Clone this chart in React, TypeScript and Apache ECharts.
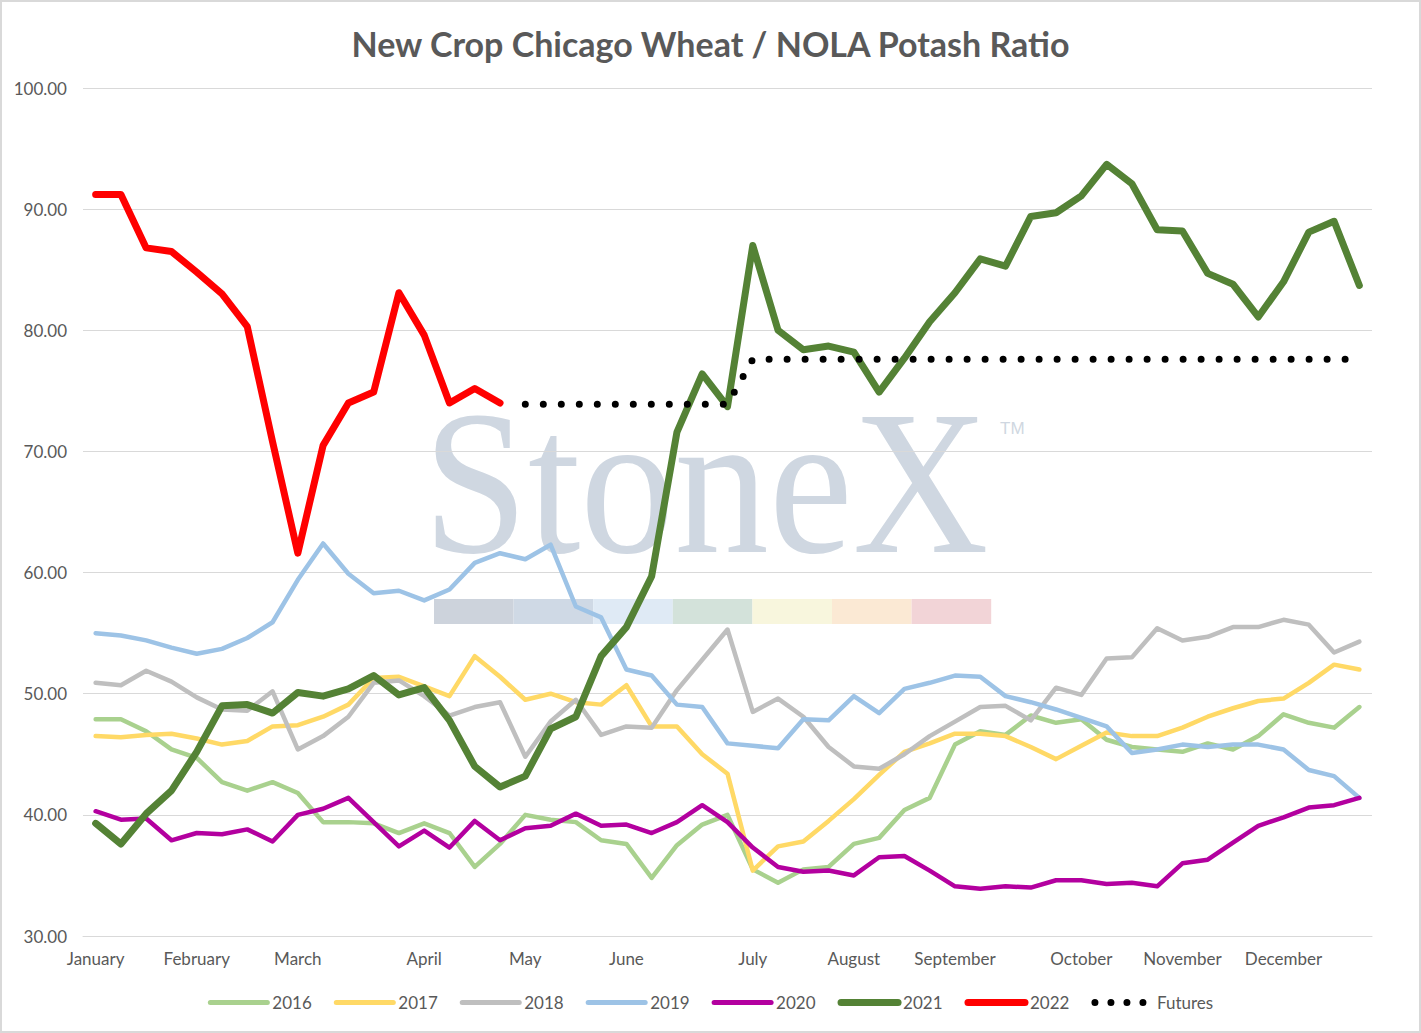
import { useEffect, useRef } from "react";
import * as echarts from "echarts";

// x axis: weekly points, month name shown on the first week of each month
const monthNames = ["January", "February", "March", "April", "May", "June", "July", "August", "September", "October", "November", "December"];
const monthWeek = [0, 4, 8, 13, 17, 21, 26, 30, 34, 39, 43, 47];
const weeks = Array.from({ length: 51 }, (_, i) => `W${i + 1}`);

const y2016 = [47.9, 47.9, 46.9, 45.4, 44.7, 42.7, 42.0, 42.7, 41.8, 39.4, 39.4, 39.3, 38.5, 39.3, 38.5, 35.7, 37.6, 40.0, 39.6, 39.4, 37.9, 37.6, 34.8, 37.5, 39.2, 40.0, 35.5, 34.4, 35.5, 35.7, 37.6, 38.1, 40.4, 41.4, 45.8, 46.9, 46.6, 48.2, 47.6, 47.9, 46.2, 45.6, 45.4, 45.2, 45.9, 45.4, 46.5, 48.3, 47.6, 47.2, 48.9];
const y2017 = [46.5, 46.4, 46.6, 46.7, 46.3, 45.8, 46.1, 47.3, 47.4, 48.1, 49.1, 51.3, 51.4, 50.6, 49.8, 53.1, 51.4, 49.5, 50.0, 49.3, 49.1, 50.7, 47.3, 47.3, 45.0, 43.4, 35.4, 37.4, 37.8, 39.5, 41.3, 43.3, 45.2, 45.9, 46.7, 46.7, 46.5, 45.6, 44.6, 45.7, 46.8, 46.5, 46.5, 47.2, 48.1, 48.8, 49.4, 49.6, 50.9, 52.4, 52.0];
const y2018 = [50.9, 50.7, 51.9, 51.0, 49.7, 48.7, 48.6, 50.2, 45.4, 46.5, 48.1, 50.9, 51.1, 49.8, 48.2, 48.9, 49.3, 44.8, 47.7, 49.5, 46.6, 47.3, 47.2, 50.3, 52.8, 55.3, 48.5, 49.6, 48.1, 45.6, 44.0, 43.8, 45.0, 46.5, 47.7, 48.9, 49.0, 47.8, 50.5, 49.9, 52.9, 53.0, 55.4, 54.4, 54.7, 55.5, 55.5, 56.1, 55.7, 53.4, 54.3];
const y2019 = [55.0, 54.8, 54.4, 53.8, 53.3, 53.7, 54.6, 55.9, 59.4, 62.4, 59.9, 58.3, 58.5, 57.7, 58.6, 60.8, 61.6, 61.1, 62.3, 57.2, 56.3, 52.0, 51.5, 49.1, 48.9, 45.9, 45.7, 45.5, 47.9, 47.8, 49.8, 48.4, 50.4, 50.9, 51.5, 51.4, 49.8, 49.3, 48.7, 48.0, 47.3, 45.1, 45.4, 45.8, 45.6, 45.8, 45.8, 45.4, 43.7, 43.2, 41.4];
const y2020 = [40.3, 39.6, 39.7, 37.9, 38.5, 38.4, 38.8, 37.8, 40.0, 40.5, 41.4, 39.4, 37.4, 38.7, 37.3, 39.5, 37.9, 38.9, 39.1, 40.1, 39.1, 39.2, 38.5, 39.4, 40.8, 39.4, 37.3, 35.7, 35.3, 35.4, 35.0, 36.5, 36.6, 35.4, 34.1, 33.9, 34.1, 34.0, 34.6, 34.6, 34.3, 34.4, 34.1, 36.0, 36.3, 37.7, 39.1, 39.8, 40.6, 40.8, 41.4];
const y2021 = [39.3, 37.6, 40.1, 42.0, 45.2, 49.0, 49.1, 48.4, 50.1, 49.8, 50.4, 51.5, 49.9, 50.5, 47.8, 44.0, 42.3, 43.2, 47.1, 48.1, 53.1, 55.5, 59.7, 71.6, 76.4, 73.7, 87.0, 80.0, 78.4, 78.7, 78.2, 74.9, 77.7, 80.7, 83.1, 85.9, 85.3, 89.4, 89.7, 91.1, 93.7, 92.1, 88.3, 88.2, 84.7, 83.8, 81.1, 84.0, 88.1, 89.0, 83.7];
const y2022 = [91.2, 91.2, 86.8, 86.5, 84.8, 83.0, 80.3, 70.8, 61.6, 70.5, 74.0, 74.9, 83.1, 79.6, 74.0, 75.2, 74.0];
const yFutures = [
  null, null, null, null, null, null, null, null, null, null, null, null, null, null, null, null, null,
  73.9, 73.9, 73.9, 73.9, 73.9, 73.9, 73.9, 73.9, 73.9,
  77.6, 77.6, 77.6, 77.6, 77.6, 77.6, 77.6, 77.6, 77.6, 77.6, 77.6, 77.6, 77.6,
  77.6, 77.6, 77.6, 77.6, 77.6, 77.6, 77.6, 77.6, 77.6, 77.6, 77.6, 77.6,
];

// watermark colour bar
const barColors = ["#cdd3dc", "#cfd9e5", "#dfeaf5", "#d3e2da", "#f8f6dd", "#fbe9d4", "#f2d4d7"];

const FONT = "Lato";
const TXT = "#595959";
const DOTS = [0, 18];

const line = (name: string, data: (number | null)[], color: string, width: number, extra: any = {}) => ({
  name,
  type: "line",
  data,
  symbol: "none",
  showSymbol: false,
  connectNulls: false,
  lineStyle: { color, width, join: "round", cap: "round", ...extra },
  itemStyle: { color },
  emphasis: { disabled: true },
});

const legendItem = (name: string, width: number, extra: any = {}) => ({
  name,
  itemStyle: { opacity: 0 },
  lineStyle: { width, cap: "round", ...extra },
});

export default function App() {
  const ref = useRef<HTMLDivElement>(null);

  useEffect(() => {
    document.body.style.margin = "0";
    if (!ref.current) return;
    const chart = echarts.init(ref.current, null, { renderer: "svg" });

    const bar = barColors.map((c, i) => ({
      type: "rect",
      z: -9,
      silent: true,
      shape: { x: 434 + i * 79.6, y: 599, width: 79.6, height: 25 },
      style: { fill: c },
    }));

    chart.setOption({
      animation: false,
      textStyle: { fontFamily: FONT },
      title: {
        text: "New Crop Chicago Wheat / NOLA Potash Ratio",
        left: "center",
        top: 21,
        textStyle: { fontSize: 34, fontWeight: "bold", color: TXT, fontFamily: FONT },
      },
      grid: { left: 83, right: 49, top: 88, bottom: 97, containLabel: false, outerBoundsMode: "none" },
      legend: {
        left: "center",
        top: 989,
        itemWidth: 57,
        itemHeight: 20,
        itemGap: 22,
        itemStyle: { opacity: 0 },
        textStyle: { fontSize: 17, color: TXT, fontFamily: FONT },
        data: [
          legendItem("2016", 5),
          legendItem("2017", 5),
          legendItem("2018", 5),
          legendItem("2019", 5),
          legendItem("2020", 5),
          legendItem("2021", 7),
          legendItem("2022", 7),
          legendItem("Futures", 7, { type: [0, 16] }),
        ],
      },
      xAxis: {
        type: "category",
        data: weeks,
        boundaryGap: true,
        axisLine: { show: true, lineStyle: { color: "#d9d9d9", width: 1 } },
        axisTick: { show: false },
        axisLabel: {
          interval: 0,
          margin: 14,
          fontSize: 17,
          color: TXT,
          fontFamily: FONT,
          formatter: (_v: string, i: number) => {
            const k = monthWeek.indexOf(i);
            return k >= 0 ? monthNames[k] : "";
          },
        },
      },
      yAxis: {
        type: "value",
        min: 30,
        max: 100,
        interval: 10,
        axisLine: { show: false },
        axisTick: { show: false },
        splitLine: { lineStyle: { color: "#d9d9d9", width: 1 } },
        axisLabel: { margin: 16, fontSize: 17, color: TXT, fontFamily: FONT, formatter: (v: number) => v.toFixed(2) },
      },
      graphic: {
        elements: [
          {
            type: "rect",
            z: -10,
            silent: true,
            shape: { x: 1, y: 1, width: 1419, height: 1031 },
            style: { fill: "#ffffff", stroke: "#d9d9d9", lineWidth: 2 },
          },
          {
            type: "text",
            z: -9,
            silent: true,
            x: 423,
            y: 483,
            scaleX: 0.92,
            style: { text: "StoneX", font: '205px "Liberation Serif"', fill: "#cfd7e1", verticalAlign: "middle" },
          },
          {
            type: "text",
            z: -9,
            silent: true,
            x: 1000,
            y: 428,
            style: { text: "TM", font: '17px "Liberation Sans"', fill: "#cfd7e1", verticalAlign: "middle" },
          },
          ...bar,
        ],
      },
      series: [
        line("2016", y2016, "#a9d18e", 4.5),
        line("2017", y2017, "#ffd966", 4.5),
        line("2018", y2018, "#bfbfbf", 4.5),
        line("2019", y2019, "#9dc3e6", 4.5),
        line("2020", y2020, "#b3009f", 4.5),
        line("2021", y2021, "#548235", 7),
        line("2022", y2022, "#ff0000", 7),
        line("Futures", yFutures, "#000000", 7, { type: DOTS }),
      ],
    });

    return () => chart.dispose();
  }, []);

  return <div ref={ref} style={{ width: 1421, height: 1033 }} />;
}
